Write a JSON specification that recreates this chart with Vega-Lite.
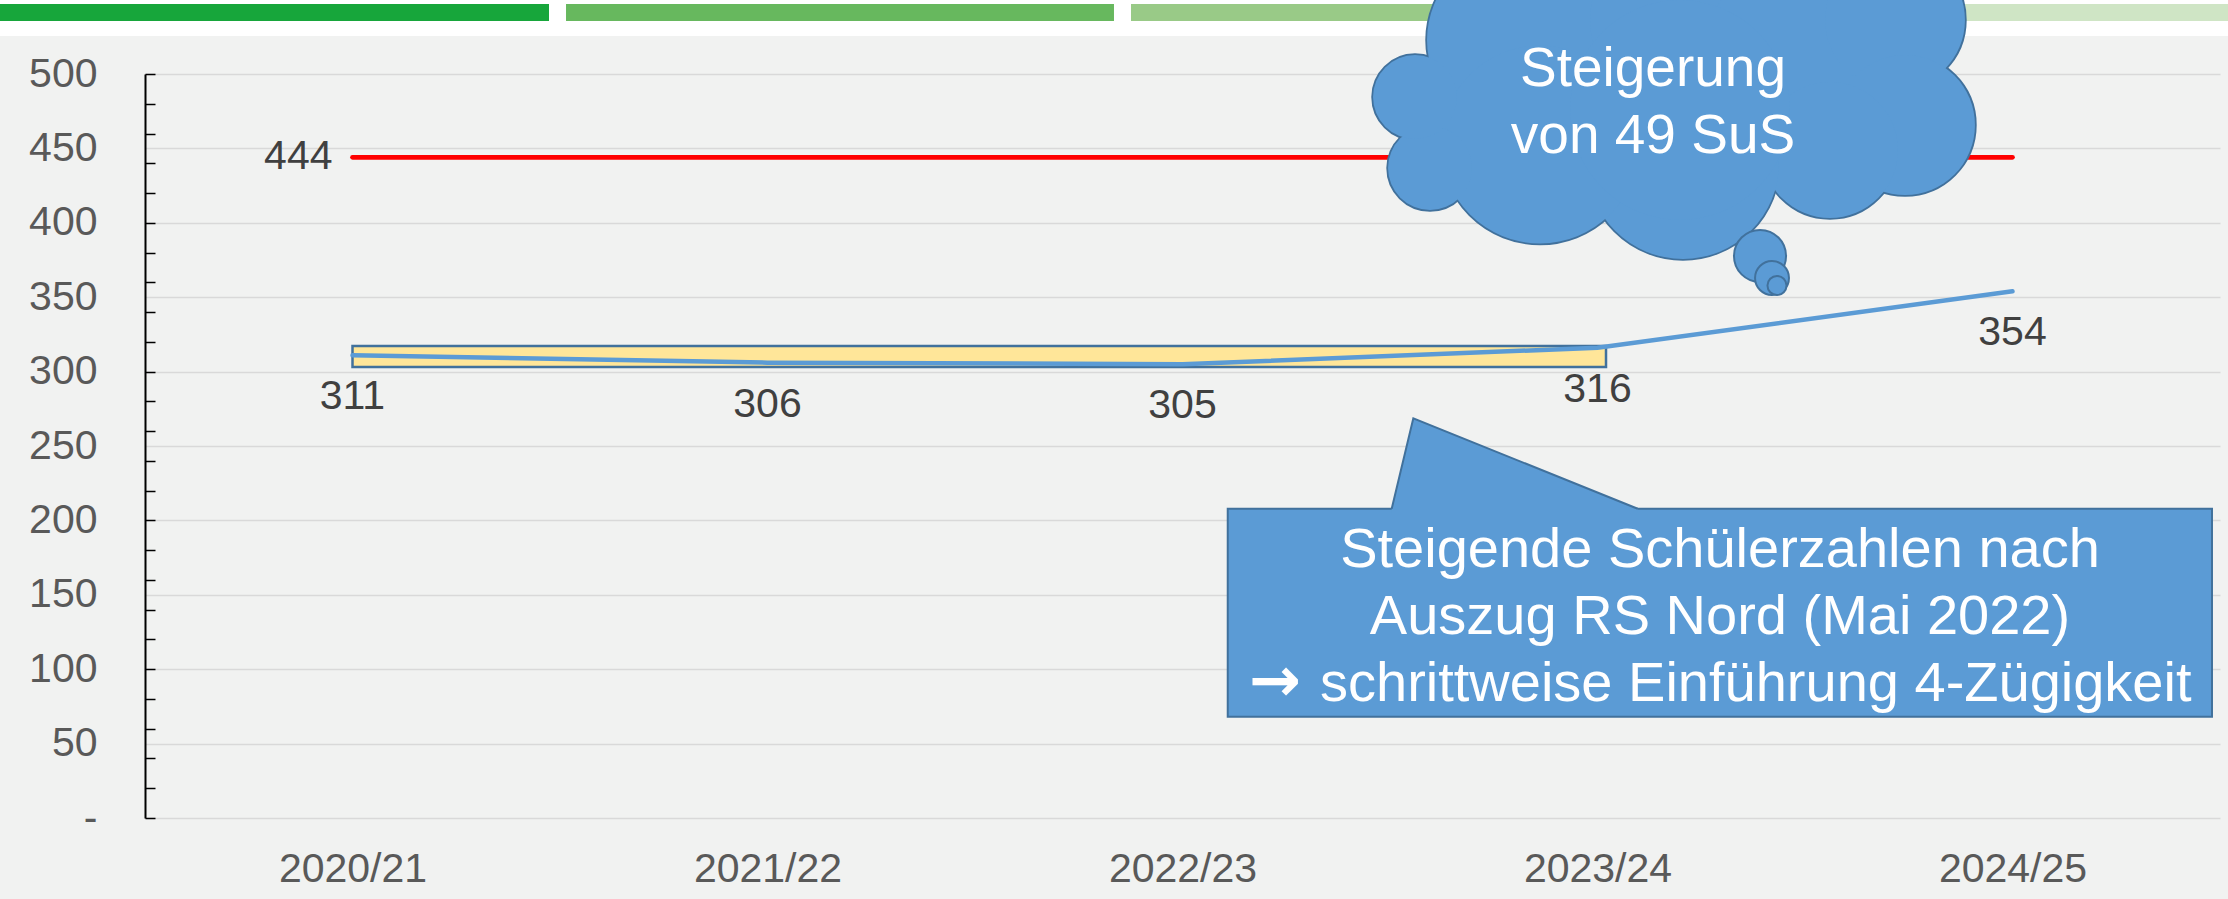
{
  "$schema": "https://vega.github.io/schema/vega-lite/v6.json",
  "width": 2075,
  "height": 744,
  "autosize": {"type": "none"},
  "padding": {"left": 145, "top": 74, "right": 8, "bottom": 81},
  "background": "#F1F2F1",
  "config": {
    "view": {"stroke": null},
    "font": "Liberation Sans",
    "axis": {"labelFont": "Liberation Sans"},
    "text": {"font": "Liberation Sans"}
  },
  "datasets": {
    "schueler": [
      {"jahr": "2020/21", "schueler": 311, "kapazitaet": 444},
      {"jahr": "2021/22", "schueler": 306, "kapazitaet": 444},
      {"jahr": "2022/23", "schueler": 305, "kapazitaet": 444},
      {"jahr": "2023/24", "schueler": 316, "kapazitaet": 444},
      {"jahr": "2024/25", "schueler": 354, "kapazitaet": 444}
    ],
    "streifen": [{"x1": -1, "x2": 5, "y1": 525.5, "y2": 560}],
    "balken": [
      {"segment": "1", "x1": -0.8494, "x2": 0.4735, "y1": 535.6, "y2": 547.0},
      {"segment": "2", "x1": 0.5145, "x2": 1.8349, "y1": 535.6, "y2": 547.0},
      {"segment": "3", "x1": 1.8759, "x2": 3.1988, "y1": 535.6, "y2": 547.0},
      {"segment": "4", "x1": 3.2398, "x2": 4.6, "y1": 535.6, "y2": 547.0}
    ],
    "markierung": [{"x1": 0, "x2": 3.0205, "y1": 303.1, "y2": 317.2}],
    "hinweis": [{"x1": 2.109, "x2": 4.4807, "y1": 68.08, "y2": 207.86}],
    "keil": [
      {"x": 2.5041, "y": 207.86},
      {"x": 2.5562, "y": 268.6},
      {"x": 3.0969, "y": 207.86}
    ],
    "hinweistext": [
      {"zeile": "Steigende Schülerzahlen nach", "x": 3.2952, "y": 168.9},
      {"zeile": "Auszug RS Nord (Mai 2022)", "x": 3.2952, "y": 123.5}
    ],
    "hinweiszeile3": [
      {"zeile": "schrittweise Einführung 4-Zügigkeit", "x": 2.3313, "y": 78.6}
    ],
    "pfeil": [
      {"zeichen": "→", "x": 2.2229, "y": 91.6}
    ],
    "wolke": [
      {"x": 2.8133, "y": 522.8, "r": 62.5},
      {"x": 3.1988, "y": 536.3, "r": 60.5},
      {"x": 3.4639, "y": 516.1, "r": 57.1},
      {"x": 3.7169, "y": 536.3, "r": 47.0},
      {"x": 3.741, "y": 465.7, "r": 47.0},
      {"x": 3.5602, "y": 448.9, "r": 45.7},
      {"x": 3.206, "y": 440.2, "r": 64.5},
      {"x": 2.8614, "y": 452.6, "r": 66.5},
      {"x": 2.5964, "y": 436.8, "r": 28.2},
      {"x": 2.5602, "y": 484.5, "r": 28.2},
      {"x": 3.1988, "y": 475.8, "r": 73.9}
    ],
    "blasen": [
      {"x": 3.3916, "y": 377.7, "r": 17.5},
      {"x": 3.4205, "y": 362.9, "r": 11.4},
      {"x": 3.4325, "y": 357.9, "r": 6.4}
    ],
    "wolkentext": [
      {"zeile": "Steigerung", "x": 3.1337, "y": 491.9},
      {"zeile": "von 49 SuS", "x": 3.1337, "y": 446.7}
    ]
  },
  "resolve": {
    "scale": {"x": "independent"},
    "axis": {"x": "independent", "y": "independent"}
  },
  "layer": [
    {
      "layer": [
        {
          "data": {"name": "streifen"},
          "mark": {"type": "rect", "color": "#FFFFFF"},
          "encoding": {
            "x": {"field": "x1", "type": "quantitative", "scale": {"domain": [-0.5, 4.5], "nice": false, "zero": false}, "axis": null},
            "x2": {"field": "x2"},
            "y": {
              "field": "y1", "type": "quantitative",
              "scale": {"domain": [0, 500], "nice": false},
              "axis": {
                "title": null, "orient": "left",
                "values": [0, 20, 40, 60, 80, 100, 120, 140, 160, 180, 200, 220, 240, 260, 280, 300, 320, 340, 360, 380, 400, 420, 440, 460, 480, 500],
                "tickCount": 40,
                "labels": false, "grid": false,
                "domain": true, "domainColor": "#000000", "domainWidth": 2,
                "ticks": true, "tickColor": "#000000", "tickWidth": 1.5, "tickSize": -10
              }
            },
            "y2": {"field": "y2"}
          }
        },
        {
          "data": {"name": "balken"},
          "mark": {"type": "rect"},
          "encoding": {
            "x": {"field": "x1", "type": "quantitative", "scale": {"domain": [-0.5, 4.5], "nice": false, "zero": false}},
            "x2": {"field": "x2"},
            "y": {"field": "y1", "type": "quantitative", "scale": {"domain": [0, 500], "nice": false}},
            "y2": {"field": "y2"},
            "color": {"field": "segment", "type": "nominal", "scale": {"domain": ["1", "2", "3", "4"], "range": ["#17A63B", "#67B85E", "#99CA87", "#CFE5C5"]}, "legend": null}
          }
        },
        {
          "data": {"name": "markierung"},
          "mark": {"type": "rect", "fill": "#FFE699", "stroke": "#41719C", "strokeWidth": 2.5},
          "encoding": {
            "x": {"field": "x1", "type": "quantitative", "scale": {"domain": [-0.5, 4.5], "nice": false, "zero": false}},
            "x2": {"field": "x2"},
            "y": {"field": "y1", "type": "quantitative", "scale": {"domain": [0, 500], "nice": false}},
            "y2": {"field": "y2"}
          }
        }
      ]
    },
    {
      "data": {"name": "schueler"},
      "encoding": {
        "x": {
          "field": "jahr", "type": "ordinal",
          "scale": {"type": "point", "padding": 0.5},
          "axis": {
            "title": null, "orient": "bottom", "domain": false, "ticks": false, "grid": false,
            "labelAngle": 0, "labelFontSize": 41, "labelColor": "#595959", "labelPadding": 31
          }
        }
      },
      "layer": [
        {
          "mark": {"type": "line", "color": "#FF0000", "strokeWidth": 4.7, "strokeCap": "round"},
          "encoding": {
            "y": {
              "field": "kapazitaet", "type": "quantitative",
              "scale": {"domain": [0, 500], "nice": false},
              "axis": {
                "title": null, "orient": "left",
                "values": [0, 50, 100, 150, 200, 250, 300, 350, 400, 450, 500],
                "ticks": false, "tickSize": 0, "domain": false,
                "grid": true, "gridColor": "#D9D9D9", "gridWidth": 1.5,
                "labelFontSize": 41, "labelColor": "#595959", "labelPadding": 48,
                "labelExpr": "datum.value == 0 ? '-\u00a0\u00a0' : datum.label"
              }
            }
          }
        },
        {
          "mark": {"type": "line", "color": "#5B9BD5", "strokeWidth": 4.5, "strokeCap": "round"},
          "encoding": {
            "y": {"field": "schueler", "type": "quantitative", "scale": {"domain": [0, 500], "nice": false}}
          }
        },
        {
          "mark": {"type": "text", "dy": 42, "fontSize": 41, "color": "#404040", "baseline": "middle"},
          "encoding": {
            "y": {"field": "schueler", "type": "quantitative", "scale": {"domain": [0, 500], "nice": false}},
            "text": {"field": "schueler", "type": "quantitative"}
          }
        },
        {
          "transform": [{"filter": "datum.jahr == '2020/21'"}],
          "mark": {"type": "text", "align": "right", "dx": -20, "fontSize": 41, "color": "#404040", "baseline": "middle"},
          "encoding": {
            "y": {"field": "kapazitaet", "type": "quantitative", "scale": {"domain": [0, 500], "nice": false}},
            "text": {"field": "kapazitaet", "type": "quantitative"}
          }
        }
      ]
    },
    {
      "layer": [
        {
          "data": {"name": "hinweis"},
          "mark": {"type": "rect", "fill": "#5B9BD5", "stroke": "#41719C", "strokeWidth": 2},
          "encoding": {
            "x": {"field": "x1", "type": "quantitative", "scale": {"domain": [-0.5, 4.5], "nice": false, "zero": false}, "axis": null},
            "x2": {"field": "x2"},
            "y": {"field": "y1", "type": "quantitative", "scale": {"domain": [0, 500], "nice": false}, "axis": null},
            "y2": {"field": "y2"}
          }
        },
        {
          "data": {"name": "keil"},
          "mark": {"type": "area", "color": "#5B9BD5", "opacity": 1},
          "encoding": {
            "x": {"field": "x", "type": "quantitative", "scale": {"domain": [-0.5, 4.5], "nice": false, "zero": false}},
            "y": {"field": "y", "type": "quantitative", "scale": {"domain": [0, 500], "nice": false}},
            "y2": {"datum": 205}
          }
        },
        {
          "data": {"name": "keil"},
          "mark": {"type": "line", "color": "#41719C", "strokeWidth": 2},
          "encoding": {
            "x": {"field": "x", "type": "quantitative", "scale": {"domain": [-0.5, 4.5], "nice": false, "zero": false}},
            "y": {"field": "y", "type": "quantitative", "scale": {"domain": [0, 500], "nice": false}}
          }
        },
        {
          "data": {"name": "hinweistext"},
          "mark": {"type": "text", "color": "#FFFFFF", "fontSize": 56, "align": "center", "baseline": "alphabetic"},
          "encoding": {
            "x": {"field": "x", "type": "quantitative", "scale": {"domain": [-0.5, 4.5], "nice": false, "zero": false}},
            "y": {"field": "y", "type": "quantitative", "scale": {"domain": [0, 500], "nice": false}},
            "text": {"field": "zeile"}
          }
        },
        {
          "data": {"name": "hinweiszeile3"},
          "mark": {"type": "text", "color": "#FFFFFF", "fontSize": 56, "align": "left", "baseline": "alphabetic"},
          "encoding": {
            "x": {"field": "x", "type": "quantitative", "scale": {"domain": [-0.5, 4.5], "nice": false, "zero": false}},
            "y": {"field": "y", "type": "quantitative", "scale": {"domain": [0, 500], "nice": false}},
            "text": {"field": "zeile"}
          }
        },
        {
          "data": {"name": "pfeil"},
          "mark": {"type": "text", "color": "#FFFFFF", "font": "DejaVu Sans", "fontWeight": "bold", "fontSize": 62, "align": "center", "baseline": "middle"},
          "encoding": {
            "x": {"field": "x", "type": "quantitative", "scale": {"domain": [-0.5, 4.5], "nice": false, "zero": false}},
            "y": {"field": "y", "type": "quantitative", "scale": {"domain": [0, 500], "nice": false}},
            "text": {"field": "zeichen"}
          }
        },
        {
          "data": {"name": "wolke"},
          "mark": {"type": "point", "shape": "circle", "filled": true, "color": "#5B9BD5", "stroke": "#41719C", "strokeWidth": 3.5, "opacity": 1},
          "encoding": {
            "x": {"field": "x", "type": "quantitative", "scale": {"domain": [-0.5, 4.5], "nice": false, "zero": false}},
            "y": {"field": "y", "type": "quantitative", "scale": {"domain": [0, 500], "nice": false}},
            "size": {"field": "r", "type": "quantitative", "scale": {"type": "pow", "exponent": 2, "domain": [0, 100], "range": [0, 88566]}, "legend": null}
          }
        },
        {
          "data": {"name": "wolke"},
          "mark": {"type": "point", "shape": "circle", "filled": true, "color": "#5B9BD5", "strokeWidth": 0, "opacity": 1},
          "encoding": {
            "x": {"field": "x", "type": "quantitative", "scale": {"domain": [-0.5, 4.5], "nice": false, "zero": false}},
            "y": {"field": "y", "type": "quantitative", "scale": {"domain": [0, 500], "nice": false}},
            "size": {"field": "r", "type": "quantitative", "scale": {"type": "pow", "exponent": 2, "domain": [0, 100], "range": [0, 88566]}, "legend": null}
          }
        },
        {
          "data": {"name": "blasen"},
          "mark": {"type": "point", "shape": "circle", "filled": true, "color": "#5B9BD5", "stroke": "#41719C", "strokeWidth": 2, "opacity": 1},
          "encoding": {
            "x": {"field": "x", "type": "quantitative", "scale": {"domain": [-0.5, 4.5], "nice": false, "zero": false}},
            "y": {"field": "y", "type": "quantitative", "scale": {"domain": [0, 500], "nice": false}},
            "size": {"field": "r", "type": "quantitative", "scale": {"type": "pow", "exponent": 2, "domain": [0, 100], "range": [0, 88566]}, "legend": null}
          }
        },
        {
          "data": {"name": "wolkentext"},
          "mark": {"type": "text", "color": "#FFFFFF", "fontSize": 55, "align": "center", "baseline": "alphabetic"},
          "encoding": {
            "x": {"field": "x", "type": "quantitative", "scale": {"domain": [-0.5, 4.5], "nice": false, "zero": false}},
            "y": {"field": "y", "type": "quantitative", "scale": {"domain": [0, 500], "nice": false}},
            "text": {"field": "zeile"}
          }
        }
      ]
    }
  ]
}
